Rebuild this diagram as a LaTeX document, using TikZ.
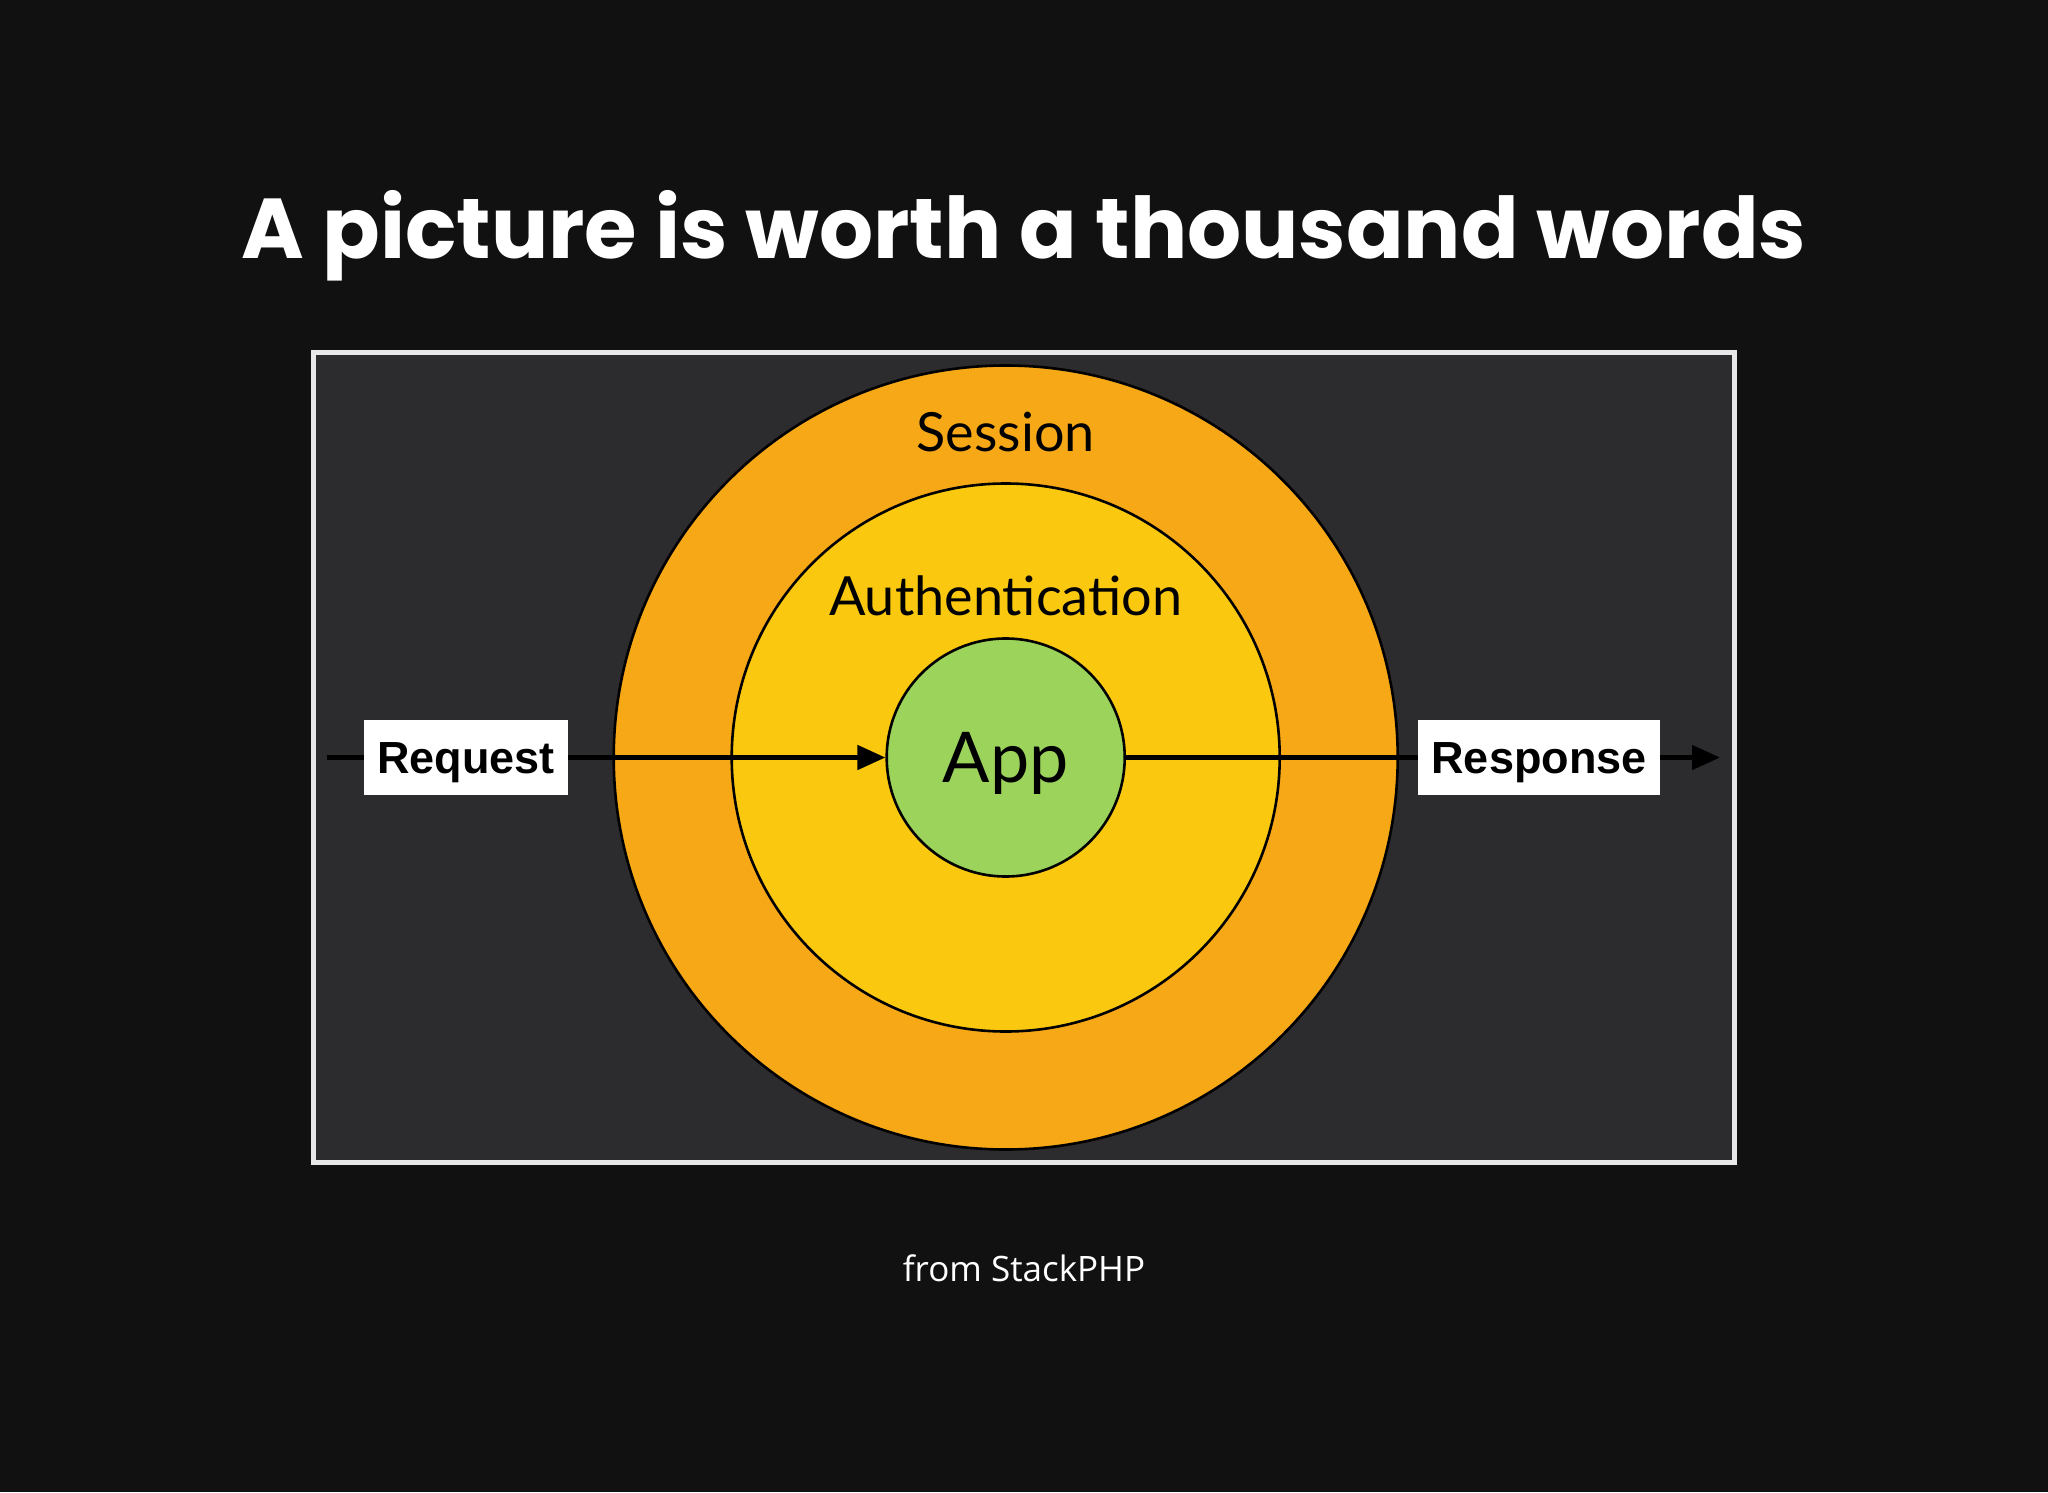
\documentclass[tikz,border=0pt]{standalone}
\usepackage{fontspec}
\setmainfont{Lato}
\newfontfamily\titlefont{Poppins}
\newfontfamily\helv{Liberation Sans}
\newfontfamily\gill{Lato}
\newfontfamily\footfont{Open Sans}
\usetikzlibrary{arrows.meta}
\definecolor{bgdark}{HTML}{111111}
\definecolor{panel}{HTML}{2C2B2D}
\definecolor{framecol}{HTML}{E8E8E8}
\definecolor{orangering}{HTML}{F7A816}
\definecolor{yellowring}{HTML}{F9C80F}
\definecolor{greenapp}{HTML}{9BD35B}
\tikzset{
  ring/.style={circle, draw=black, line width=1.3pt, inner sep=0pt},
  labelbox/.style={fill=white, draw=none, inner sep=0pt, text=black, text height=16pt, text depth=0pt, font=\helv\bfseries\fontsize{22.5}{26}\selectfont},
  flow/.style={line width=2.4pt, draw=black},
  tip/.style={-{Triangle[length=14pt,width=12pt]}}
}
\begin{document}
\begin{tikzpicture}[x=0.5pt,y=-0.5pt]
\fill[bgdark] (0,0) rectangle (2048,1492);
\useasboundingbox (0,0) rectangle (2048,1492);
\node[text=white, font=\titlefont\bfseries\fontsize{42.5}{48}\selectfont] (title) at (1024,236) {A picture is worth a thousand words};
\draw[fill=panel, draw=framecol, line width=2.5pt] (313.5,352.6) rectangle (1734.5,1162.4);
\node[ring, fill=orangering, minimum size=392pt] (session) at (1005.7,757.5) {};
\node[ring, fill=yellowring, minimum size=274pt] (auth) at (1005.7,757.5) {};
\node[ring, fill=greenapp, minimum size=119pt] (app) at (1005.7,757.5) {};
\node[font=\gill\fontsize{27}{30}\selectfont, text=black] (sessionlbl) at (1005.7,432) {Session};
\node[font=\gill\fontsize{27}{30}\selectfont, text=black] (authlbl) at (1005.7,596) {Authentication};
\node[font=\gill\fontsize{35}{40}\selectfont, text=black] (applbl) at (1005.7,763) {App};
\node[labelbox, minimum width=102pt, minimum height=37.5pt] (req) at (466,757.5) {Request};
\node[labelbox, minimum width=121pt, minimum height=37.5pt] (resp) at (1539,757.5) {Response};
\coordinate (start) at (326.5,757.5);
\coordinate (finish) at (1720,757.5);
\draw[flow] (start) -- (req.west);
\draw[flow, tip] (req.east) -- (app.west);
\draw[flow] (app.east) -- (resp.west);
\draw[flow, tip] (resp.east) -- (finish);
\node[text=white, font=\footfont\fontsize{17.5}{20}\selectfont] (footer) at (1024,1268) {from StackPHP};
\end{tikzpicture}
\end{document}
